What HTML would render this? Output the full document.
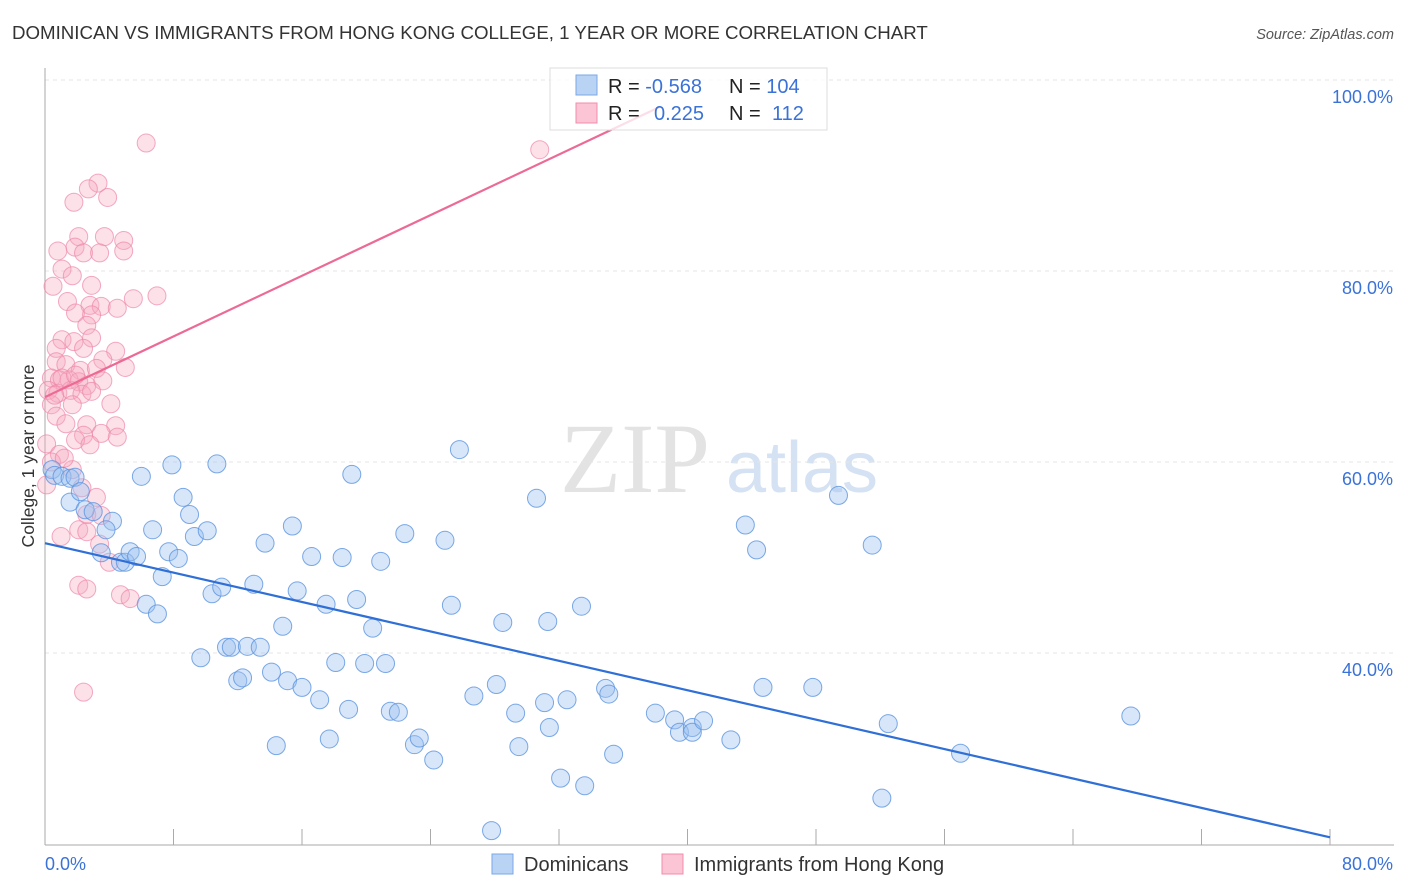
<!DOCTYPE html>
<html><head><meta charset="utf-8"><style>
body{margin:0;background:#fff;font-family:"Liberation Sans",sans-serif;}
#wrap{position:relative;width:1406px;height:892px;overflow:hidden;}
</style></head><body>
<div id="wrap">
<svg id="chart" width="1406" height="892">
<text x="12" y="39" font-size="18.7" fill="#333">DOMINICAN VS IMMIGRANTS FROM HONG KONG COLLEGE, 1 YEAR OR MORE CORRELATION CHART</text>
<text x="1394" y="39" font-size="14.5" fill="#555" font-style="italic" text-anchor="end">Source: ZipAtlas.com</text>
<text x="635" y="492" font-size="100" fill="#e3e3e3" font-family="Liberation Serif,serif" text-anchor="middle">ZIP</text>
<text x="802" y="492" font-size="72" fill="#d5e2f3" text-anchor="middle">atlas</text>
<g id="grid"></g><g id="axes"></g><g id="pts"></g><g id="lines"></g>
<text transform="translate(34,456) rotate(-90)" font-size="17.5" fill="#333" text-anchor="middle">College, 1 year or more</text>
<g>
<rect x="550" y="68" width="277" height="62" fill="#fff" fill-opacity="0.78" stroke="#ddd"/>
<rect x="576" y="75" width="21" height="20" fill="#b9d3f5" stroke="#7aa7e6"/>
<rect x="576" y="103" width="21" height="20" fill="#fbc5d5" stroke="#f08cab"/>
<text x="608" y="93" font-size="20" fill="#222">R = <tspan fill="#3a72d8">-0.568</tspan></text>
<text x="729" y="93" font-size="20" fill="#222">N = <tspan fill="#3a72d8">104</tspan></text>
<text x="608" y="120" font-size="20" fill="#222">R = <tspan fill="#3a72d8" x="654">0.225</tspan></text>
<text x="729" y="120" font-size="20" fill="#222">N = <tspan fill="#3a72d8" x="772">112</tspan></text>
</g>
<g>
<rect x="492" y="854" width="21" height="20" fill="#b9d3f5" stroke="#7aa7e6"/>
<text x="524" y="871" font-size="20" fill="#333">Dominicans</text>
<rect x="662" y="854" width="21" height="20" fill="#fbc5d5" stroke="#f08cab"/>
<text x="694" y="871" font-size="20" fill="#333">Immigrants from Hong Kong</text>
</g>
</svg>
</div>
<script>
const blueX=[0.44,0.6,1.06,1.56,1.87,1.56,2.5,2.2,3.0,4.2,3.8,3.5,4.7,5.0,5.3,5.7,6.0,6.3,6.7,7.0,7.3,7.7,7.9,8.3,8.6,9.0,9.3,9.7,10.1,10.4,10.7,11.0,11.3,11.6,12.0,12.3,12.6,13.0,13.4,13.7,14.1,14.4,14.8,15.1,15.4,15.7,16.0,16.6,17.1,17.5,17.7,18.1,18.5,18.9,19.1,19.4,19.9,20.4,20.9,21.2,21.5,22.0,22.4,23.0,23.3,24.2,24.9,25.3,25.8,26.7,28.1,28.5,29.3,29.5,30.6,31.1,31.3,31.4,32.1,32.5,33.4,33.6,34.9,35.1,35.4,38.0,39.2,39.5,40.3,40.3,41.0,42.7,43.6,44.3,44.7,47.8,49.4,51.5,52.1,52.5,57.0,67.6,27.8];
const blueY=[59.2,58.6,58.5,58.3,58.4,55.8,55.0,56.9,54.8,53.8,52.9,50.5,49.5,49.5,50.6,50.1,58.5,45.1,52.9,44.1,48.0,50.6,59.7,49.9,56.3,54.5,52.2,39.5,52.8,46.2,59.8,46.9,40.6,40.6,37.1,37.4,40.7,47.2,40.6,51.5,38.0,30.3,42.8,37.1,53.3,46.5,36.4,50.1,35.1,45.1,31.0,39.0,50.0,34.1,58.7,45.6,38.9,42.6,49.6,38.9,33.9,33.8,52.5,30.4,31.1,28.8,51.8,45.0,61.3,35.5,36.7,43.2,33.7,30.2,56.2,34.8,43.3,32.2,26.9,35.1,44.9,26.1,36.3,35.7,29.4,33.7,33.0,31.7,32.2,31.7,32.9,30.9,53.4,50.8,36.4,36.4,56.5,51.3,24.8,32.6,29.5,33.4,21.4];
const pinkX=[6.3,30.8,3.3,2.7,3.9,1.8,2.1,3.7,4.9,4.9,0.8,1.87,2.4,3.4,1.06,1.7,0.5,2.9,1.4,2.8,3.5,4.5,5.5,6.97,1.9,2.9,2.6,1.06,2.9,1.8,0.7,2.4,4.4,3.6,0.7,1.3,5.0,2.2,3.2,0.4,0.9,1.5,2.1,2.6,3.6,0.2,0.8,1.6,2.3,0.4,1.7,4.1,0.7,1.3,2.6,4.4,2.4,3.5,4.5,1.9,2.8,0.1,0.9,0.4,1.7,0.1,2.3,3.2,2.6,3.5,2.1,2.6,1.0,3.4,4.0,2.1,2.6,4.7,5.3,2.4,1.2,1.06,1.9,2.9,0.6];
const pinkY=[93.4,92.7,89.2,88.6,87.7,87.2,83.6,83.6,83.2,82.1,82.1,82.5,81.9,81.9,80.2,79.5,78.4,78.5,76.8,76.4,76.3,76.1,77.1,77.4,75.6,75.4,74.3,72.8,73.0,72.6,71.9,71.9,71.6,70.7,70.5,70.2,69.9,69.6,69.8,68.8,68.6,68.6,68.4,68.0,68.5,67.5,67.2,67.5,67.1,66.0,66.0,66.1,64.8,64.0,63.9,63.8,62.8,63.0,62.6,62.3,61.8,61.9,60.8,60.0,59.2,57.6,57.3,56.3,54.5,54.4,52.9,52.7,52.2,51.4,49.5,47.1,46.7,46.1,45.7,35.9,60.4,68.8,69.1,67.4,67.0];
const blueTrend=[51.5,20.7];   // y at x=0 and x=80
const pinkTrend=[66.8,97.2,38.3]; // y at x=0, y at x=end, end x
const yTicks=[100,80,60,40];
const yTickLabels=["100.0%","80.0%","60.0%","40.0%"];
const xTickLabels=["0.0%","80.0%"];
const xTicks=[0,8,16,24,32,40,48,56,64,72,80];

const NS="http://www.w3.org/2000/svg";
const X=v=>45+v*(1285/80);
const Y=v=>80+(100-v)*9.55;
function mk(tag,attrs,parent){const e=document.createElementNS(NS,tag);for(const k in attrs)e.setAttribute(k,attrs[k]);document.getElementById(parent).appendChild(e);return e;}

yTicks.forEach((t,i)=>{
  const g=mk('line',{x1:45,x2:1394,y1:Y(t),y2:Y(t),stroke:'#e6e6e6','stroke-dasharray':'4,4'},'grid');
  
  
  const l=mk('text',{x:1393,y:Y(t)+23,'font-size':18,fill:'#3a72d8','text-anchor':'end'},'axes');
  l.textContent=yTickLabels[i];
  
  
});
const ya=mk('line',{x1:45,x2:45,y1:68,y2:845,stroke:'#aaa'},'axes');


const xa=mk('line',{x1:45,x2:1394,y1:845,y2:845,stroke:'#aaa'},'axes');


xTicks.forEach(t=>{
  const k=mk('line',{x1:X(t),x2:X(t),y1:829,y2:845,stroke:'#aaa'},'axes');
  
  
});
[[0,'start',45],[80,'end',1393]].forEach((d,i)=>{
  const l=mk('text',{x:d[2],y:870,'font-size':18,fill:'#3a72d8','text-anchor':d[1]},'axes');
  l.textContent=xTickLabels[i];
  
  
});
pinkX.forEach((x,i)=>{
  const c=mk('circle',{cx:X(x),cy:Y(pinkY[i]),r:9,fill:'#f7a8c0','fill-opacity':0.35,stroke:'#ee86a8','stroke-opacity':0.7},'pts');
  
  
});
blueX.forEach((x,i)=>{
  const c=mk('circle',{cx:X(x),cy:Y(blueY[i]),r:9,fill:'#9cc0f0','fill-opacity':0.4,stroke:'#5b93e0','stroke-opacity':0.8},'pts');
  
  
});
const bl=mk('line',{x1:X(0),y1:Y(blueTrend[0]),x2:X(80),y2:Y(blueTrend[1]),stroke:'#2f6fd6','stroke-width':2.2},'lines');


const pl=mk('line',{x1:X(0),y1:Y(pinkTrend[0]),x2:X(pinkTrend[2]),y2:Y(pinkTrend[1]),stroke:'#ec6a95','stroke-width':2.2},'lines');


</script>
</body></html>
